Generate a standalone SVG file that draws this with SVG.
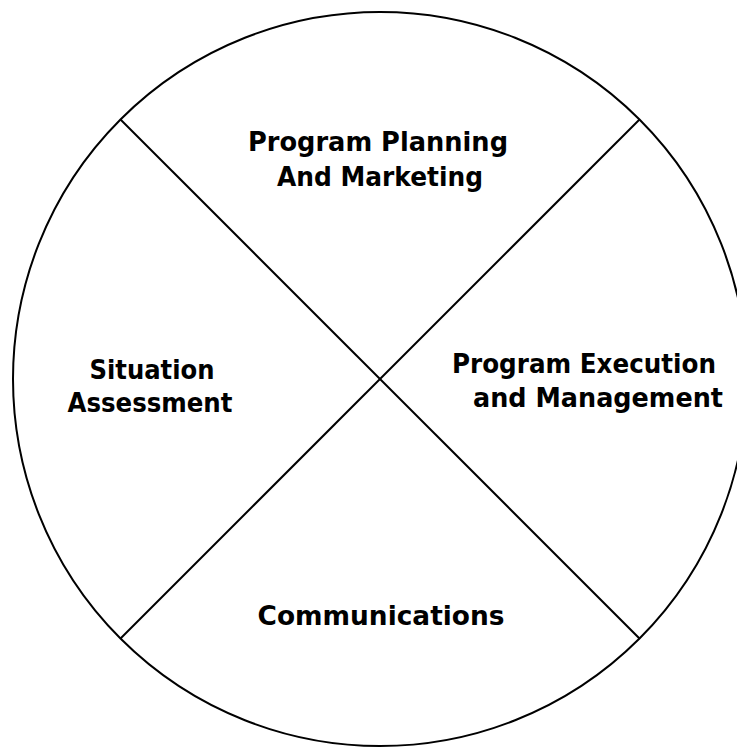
<svg xmlns="http://www.w3.org/2000/svg" width="737" height="748" viewBox="0 0 737 748">
<style>
.lbl{font-family:"DejaVu Sans","Liberation Sans",sans-serif;font-weight:bold;font-size:27px;fill:#000;text-anchor:middle}
.ln{stroke:#000;stroke-width:2;fill:none}
</style>
<rect width="737" height="748" fill="#fff"/>
<g id="circle"><circle class="ln" cx="380" cy="379" r="367"/></g>
<g id="connectors">
<line class="ln" x1="120.5" y1="119.5" x2="639.5" y2="638.5"/>
<line class="ln" x1="639.5" y1="119.5" x2="120.5" y2="638.5"/>
</g>
<g id="planning">
<text class="lbl" x="378" y="151" textLength="260" lengthAdjust="spacingAndGlyphs">Program Planning</text>
<text class="lbl" x="380" y="186" textLength="206" lengthAdjust="spacingAndGlyphs">And Marketing</text>
</g>
<g id="execution">
<text class="lbl" x="584" y="373" textLength="264" lengthAdjust="spacingAndGlyphs">Program Execution</text>
<text class="lbl" x="598" y="407" textLength="250" lengthAdjust="spacingAndGlyphs">and Management</text>
</g>
<g id="situation">
<text class="lbl" x="152" y="379" textLength="125" lengthAdjust="spacingAndGlyphs">Situation</text>
<text class="lbl" x="150" y="412" textLength="165" lengthAdjust="spacingAndGlyphs">Assessment</text>
</g>
<g id="communications">
<text class="lbl" x="381" y="625" textLength="247" lengthAdjust="spacingAndGlyphs">Communications</text>
</g>
</svg>
